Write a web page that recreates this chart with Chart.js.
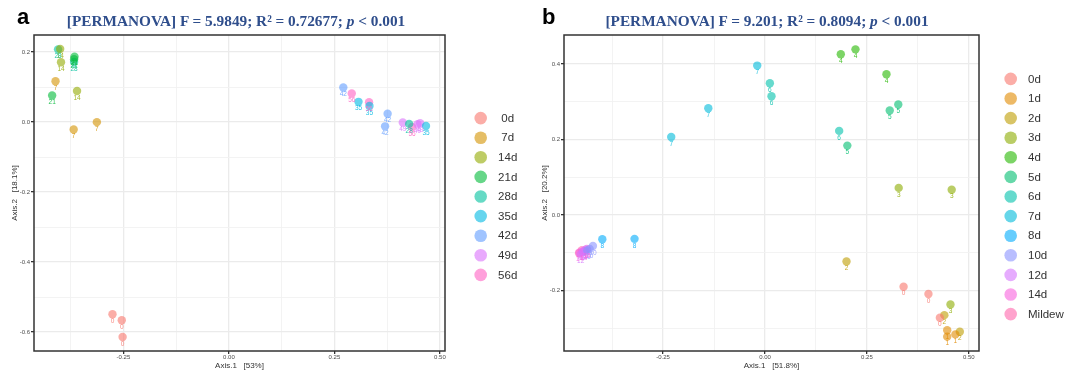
<!DOCTYPE html>
<html lang="en">
<head>
<meta charset="UTF-8">
<title>PCoA PERMANOVA</title>
<script src="https://cdn.jsdelivr.net/npm/chart.js"></script>
<style>
    body {
        margin: 0;
        background: #fff;
        width: 1075px;
        height: 374px;
        position: relative;
        overflow: hidden;
        font-family: "Liberation Sans", Arial, sans-serif;
    }
    .panel { position: absolute; top: 0; height: 374px; }
    #panelA { left: 0; width: 540px; }
    #panelB { left: 540px; width: 535px; }
    .letter {
        position: absolute;
        top: 6px;
        font-weight: bold;
        font-size: 22px;
        line-height: 22px;
        color: #000;
    }
    .title {
        position: absolute;
        top: 13px;
        font-family: "Liberation Serif", "Times New Roman", serif;
        font-weight: bold;
        font-size: 15.3px;
        line-height: 16px;
        color: #2F4E8C;
        white-space: nowrap;
        transform: translateX(-50%);
    }
</style>
</head>
<body>
    <div class="panel" id="panelA"><canvas id="chartA"></canvas></div>
    <div class="panel" id="panelB"><canvas id="chartB"></canvas></div>

    <div class="letter" style="left:17px">a</div>
    <div class="title" style="left:236px">[PERMANOVA] F = 5.9849; R² = 0.72677; <i>p</i> &lt; 0.001</div>
    <div class="letter" style="left:542px">b</div>
    <div class="title" style="left:767px">[PERMANOVA] F = 9.201; R² = 0.8094; <i>p</i> &lt; 0.001</div>

<script>
// ---- panel a ----
const groupsA = ['0d', '7d', '14d', '21d', '28d', '35d', '42d', '49d', '56d'];
const tagsA = ['0', '7', '14', '21', '28', '35', '42', '49', '56'];
const xA = [
    [-0.276, -0.254, -0.252],
    [-0.411, -0.368, -0.313],
    [-0.400, -0.398, -0.360],
    [-0.419, -0.366, -0.367],
    [-0.405, -0.367, 0.427],
    [0.307, 0.333, 0.467],
    [0.271, 0.376, 0.370],
    [0.412, 0.447, 0.453],
    [0.291, 0.332, 0.434]
];
const yA = [
    [-0.549, -0.566, -0.614],
    [0.117, -0.021, 0.000],
    [0.209, 0.171, 0.089],
    [0.076, 0.187, 0.180],
    [0.208, 0.172, -0.005],
    [0.058, 0.046, -0.011],
    [0.099, 0.024, -0.012],
    [-0.001, -0.006, -0.003],
    [0.082, 0.057, -0.014]
];
const xTicksA = [-0.375, -0.25, -0.125, 0, 0.125, 0.25, 0.375, 0.5];
const yTicksA = [-0.6, -0.5, -0.4, -0.3, -0.2, -0.1, 0, 0.1, 0.2];
const colorsA = ['#F8766D', '#D39200', '#93AA00', '#00BA38', '#00C19F', '#00B9E3', '#619CFF', '#DB72FB', '#FF61C3'];

// ---- panel b ----
const groupsB = ['0d', '1d', '2d', '3d', '4d', '5d', '6d', '7d', '8d', '10d', '12d', '14d', 'Mildew'];
const tagsB = ['0', '1', '2', '3', '4', '5', '6', '7', '8', '10', '12', '14', ''];
const xB = [
    [0.340, 0.401, 0.429],
    [0.447, 0.447, 0.467],
    [0.200, 0.440, 0.478],
    [0.328, 0.458, 0.455],
    [0.186, 0.222, 0.298],
    [0.306, 0.327, 0.202],
    [0.012, 0.016, 0.182],
    [-0.019, -0.139, -0.230],
    [-0.320, -0.399],
    [-0.422, -0.430, -0.436],
    [-0.447, -0.452, -0.440],
    [-0.455, -0.444, -0.437],
    [-0.456, -0.449, -0.441]
];
const yB = [
    [-0.190, -0.209, -0.272],
    [-0.305, -0.322, -0.316],
    [-0.123, -0.265, -0.309],
    [0.072, 0.067, -0.237],
    [0.426, 0.439, 0.373],
    [0.277, 0.293, 0.184],
    [0.349, 0.315, 0.223],
    [0.396, 0.283, 0.207],
    [-0.063, -0.064],
    [-0.082, -0.090, -0.094],
    [-0.097, -0.104, -0.092],
    [-0.099, -0.095, -0.090],
    [-0.101, -0.093, -0.096]
];
const xTicksB = [-0.375, -0.25, -0.125, 0, 0.125, 0.25, 0.375, 0.5];
const yTicksB = [-0.3, -0.2, -0.1, 0, 0.1, 0.2, 0.3, 0.4];
const colorsB = ['#F8766D', '#E18A00', '#BE9C00', '#8CAB00', '#24B700', '#00BE70', '#00C1AB', '#00BBDA', '#00ACFC', '#8B93FF', '#D575FE', '#F962DD', '#FF65AC'];

function rgba(hex, a) {
    const n = parseInt(hex.slice(1), 16);
    return `rgba(${(n >> 16) & 255},${(n >> 8) & 255},${n & 255},${a})`;
}

function isMajor(v, step) {
    return Math.abs(v / step - Math.round(v / step)) < 1e-6;
}

// small number under each point + dark plot border + legend on the right
const decorations = {
    id: 'decorations',
    afterDatasetsDraw(chart) {
        const ctx = chart.ctx;
        ctx.save();
        ctx.font = '6.5px "Liberation Sans", Arial, sans-serif';
        ctx.textAlign = 'center';
        ctx.textBaseline = 'top';
        chart.data.datasets.forEach((ds, i) => {
            ctx.fillStyle = ds.tagColor;
            chart.getDatasetMeta(i).data.forEach(pt => ctx.fillText(ds.tag, pt.x, pt.y + 3.6));
        });
        ctx.restore();
    },
    afterDraw(chart, args, opts) {
        const {ctx, chartArea: a} = chart;
        ctx.save();
        ctx.strokeStyle = '#333';
        ctx.lineWidth = 1.5;
        ctx.strokeRect(a.left, a.top, a.right - a.left, a.bottom - a.top);

        const ds = chart.data.datasets;
        const step = 19.6;
        const y0 = (a.top + a.bottom) / 2 + 3.5 - (ds.length - 1) * step / 2;
        ctx.font = '11.5px "Liberation Sans", Arial, sans-serif';
        ctx.textBaseline = 'middle';
        ctx.textAlign = opts.align;
        ds.forEach((d, i) => {
            const y = y0 + i * step;
            ctx.beginPath();
            ctx.arc(a.right + opts.circleDx, y, 6.3, 0, Math.PI * 2);
            ctx.fillStyle = d.backgroundColor;
            ctx.fill();
            ctx.fillStyle = '#333';
            ctx.fillText(d.label, a.right + opts.textDx, y + 0.5);
        });
        ctx.restore();
    }
};

function makeChart(id, p) {
    const datasets = p.groups.map((g, i) => ({
        label: g,
        tag: p.tags[i],
        tagColor: rgba(p.colors[i], 0.85),
        data: p.xs[i].map((x, j) => ({x: x, y: p.ys[i][j]})),
        backgroundColor: rgba(p.colors[i], 0.6),
        borderWidth: 0,
        pointRadius: 4.2,
        pointHoverRadius: 4.2
    }));

    return new Chart(document.getElementById(id), {
        type: 'scatter',
        data: {datasets: datasets},
        plugins: [decorations],
        options: {
            responsive: true,
            maintainAspectRatio: false,
            animation: false,
            layout: {padding: {top: 35, right: p.padRight, left: 0, bottom: 0}},
            plugins: {
                legend: {display: false},
                tooltip: {enabled: false},
                decorations: p.legend
            },
            scales: {
                x: {
                    type: 'linear',
                    min: p.xMin,
                    max: p.xMax,
                    afterBuildTicks: s => { s.ticks = p.xTicks.map(v => ({value: v})); },
                    afterFit: s => { s.height = 23; },
                    border: {display: false},
                    grid: {
                        color: c => isMajor(c.tick.value, 0.25) ? '#EBEBEB' : '#F2F2F2',
                        lineWidth: c => isMajor(c.tick.value, 0.25) ? 1.3 : 0.9,
                        tickColor: c => isMajor(c.tick.value, 0.25) ? '#333' : 'rgba(0,0,0,0)',
                        tickLength: 3
                    },
                    ticks: {
                        autoSkip: false,
                        maxRotation: 0,
                        padding: 0,
                        color: '#4D4D4D',
                        font: {size: 6, family: '"Liberation Sans", Arial, sans-serif'},
                        callback: v => isMajor(v, 0.25) ? v.toFixed(2) : ''
                    },
                    title: {
                        display: true,
                        text: p.xTitle,
                        color: '#333',
                        font: {size: 8, family: '"Liberation Sans", Arial, sans-serif'},
                        padding: {top: 0, bottom: 3}
                    }
                },
                y: {
                    type: 'linear',
                    min: p.yMin,
                    max: p.yMax,
                    afterBuildTicks: s => { s.ticks = p.yTicks.map(v => ({value: v})); },
                    afterFit: s => { s.width = p.yWidth; },
                    border: {display: false},
                    grid: {
                        color: c => isMajor(c.tick.value, 0.2) ? '#EBEBEB' : '#F2F2F2',
                        lineWidth: c => isMajor(c.tick.value, 0.2) ? 1.3 : 0.9,
                        tickColor: c => isMajor(c.tick.value, 0.2) ? '#333' : 'rgba(0,0,0,0)',
                        tickLength: 3
                    },
                    ticks: {
                        autoSkip: false,
                        padding: 1,
                        color: '#4D4D4D',
                        font: {size: 6, family: '"Liberation Sans", Arial, sans-serif'},
                        callback: v => isMajor(v, 0.2) ? v.toFixed(1) : ''
                    },
                    title: {
                        display: true,
                        text: p.yTitle,
                        color: '#333',
                        font: {size: 8, family: '"Liberation Sans", Arial, sans-serif'},
                        padding: {top: p.yTitlePad, bottom: 0}
                    }
                }
            }
        }
    });
}

makeChart('chartA', {
    groups: groupsA, tags: tagsA, xs: xA, ys: yA, colors: colorsA,
    xTicks: xTicksA, yTicks: yTicksA,
    xMin: -0.462, xMax: 0.512, yMin: -0.654, yMax: 0.249,
    xTitle: 'Axis.1   [53%]', yTitle: 'Axis.2   [18.1%]',
    padRight: 95, yWidth: 34, yTitlePad: 10,
    legend: {circleDx: 35.7, textDx: 62.7, align: 'center'}
});

makeChart('chartB', {
    groups: groupsB, tags: tagsB, xs: xB, ys: yB, colors: colorsB,
    xTicks: xTicksB, yTicks: yTicksB,
    xMin: -0.493, xMax: 0.525, yMin: -0.360, yMax: 0.477,
    xTitle: 'Axis.1   [51.8%]', yTitle: 'Axis.2   [20.2%]',
    padRight: 96, yWidth: 24, yTitlePad: 0,
    legend: {circleDx: 31.7, textDx: 49, align: 'left'}
});
</script>
</body>
</html>
